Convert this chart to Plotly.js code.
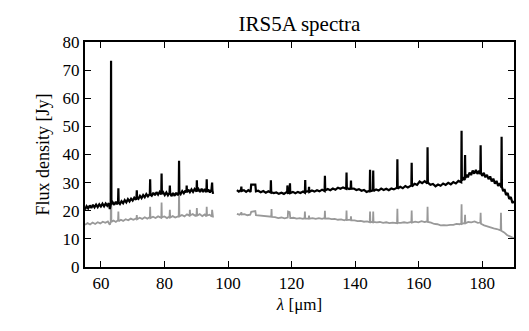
<!DOCTYPE html>
<html>
<head>
<meta charset="utf-8">
<script src="https://cdn.plot.ly/plotly-3.0.1.min.js"></script>
<style>
  body { margin: 0; background: #fff; }
  #plot text { font-family: 'Liberation Serif', serif !important; }
</style>
</head>
<body>
<div id="plot"></div>
<script>
// wavelength (um) and flux (Jy); null marks the detector gap
var blackX = [55.0, 55.5, 56.0, 56.5, 57.0, 57.5, 58.0, 58.5, 59.0, 59.5, 60.0, 60.5, 61.0, 61.5,
  62.0, 62.5, 62.8, 63.1, 63.2, 63.3, 63.7, 64.2, 64.7, 65.1, 65.4, 65.5, 65.6, 66.0, 66.5, 67.0,
  67.5, 68.0, 68.5, 69.0, 69.5, 70.0, 70.5, 71.0, 71.2, 71.3, 71.4, 71.8, 72.3, 72.8, 73.3, 73.8,
  74.3, 74.8, 75.4, 75.5, 75.6, 76.0, 76.5, 77.0, 77.5, 78.0, 78.5, 79.0, 79.1, 79.2, 79.6, 80.1,
  80.6, 81.1, 81.6, 81.7, 81.8, 82.2, 82.7, 83.2, 83.7, 84.2, 84.5, 84.6, 84.7, 85.1, 85.6, 86.1,
  86.6, 86.9, 87.0, 87.1, 87.5, 88.0, 88.5, 89.0, 89.5, 90.1, 90.2, 90.3, 90.7, 91.2, 91.7, 92.2,
  92.7, 93.2, 93.3, 93.4, 93.8, 94.3, 94.8, 95.0, 95.1, 95.3,
  99.0,
  102.8, 103.4, 104.1, 104.2, 104.3, 105.0, 105.7, 106.4, 107.1, 107.3, 108.6, 108.8, 109.5, 110.3,
  111.1, 111.9, 112.7, 113.4, 113.5, 113.6, 114.4, 115.2, 116.0, 116.8, 117.6, 118.4, 118.6, 118.7,
  118.9, 119.4, 119.5, 119.6, 120.4, 121.2, 122.0, 122.8, 123.6, 124.2, 124.3, 124.4, 125.4, 125.5,
  125.6, 126.4, 127.2, 128.0, 128.8, 129.6, 130.4, 130.5, 130.6, 131.4, 132.2, 133.0, 133.8, 134.6,
  135.4, 136.2, 137.2, 137.3, 137.4, 138.1, 138.6, 138.7, 138.8, 139.6, 140.4, 141.2, 142.0, 142.8,
  143.6, 144.6, 144.7, 144.8, 145.6, 145.7, 145.8, 146.6, 147.4, 148.2, 149.0, 149.8, 150.6, 151.4,
  152.2, 153.2, 153.3, 153.4, 154.2, 155.0, 155.8, 156.6, 157.7, 157.8, 157.9, 158.7, 159.5, 160.3,
  161.1, 161.9, 162.7, 162.8, 162.9, 163.7, 164.5, 165.3, 166.1, 166.9, 167.7, 168.5, 169.3, 170.1,
  170.9, 171.7, 172.5, 173.4, 173.5, 173.6, 174.1, 174.5, 174.6, 174.7, 175.1, 175.5, 176.0, 176.5,
  177.0, 177.5, 178.0, 178.5, 179.0, 179.4, 179.5, 179.6, 180.0, 180.5, 181.0, 181.5, 182.0, 182.5,
  183.0, 183.5, 184.0, 184.5, 185.0, 185.5, 186.0, 186.1, 186.2, 186.6, 187.0, 187.5, 188.0, 188.5,
  189.0, 189.5, 190.0];
var blackY = [20.4, 21.6, 20.8, 21.9, 21.0, 22.1, 21.2, 22.2, 21.3, 22.3, 21.5, 22.5, 21.6, 22.6,
  21.8, 22.7, 20.6, 22.2, 73.3, 22.4, 23.0, 22.1, 23.2, 22.3, 23.2, 28.0, 23.0, 22.4, 23.4, 22.7,
  23.8, 23.0, 24.1, 23.3, 24.3, 23.6, 24.6, 23.9, 24.8, 27.3, 24.5, 24.2, 25.3, 24.5, 25.6, 24.8,
  25.9, 25.1, 26.0, 31.2, 25.7, 25.3, 26.4, 25.5, 26.6, 25.7, 26.7, 25.8, 33.2, 26.0, 26.6, 25.6,
  26.5, 25.5, 26.4, 29.0, 26.2, 25.2, 26.3, 25.3, 26.4, 25.5, 26.5, 37.8, 26.5, 25.9, 27.0, 26.2,
  27.2, 26.5, 29.0, 26.6, 27.5, 26.6, 27.6, 26.7, 27.7, 26.8, 30.8, 27.0, 27.7, 26.7, 27.8, 26.7,
  27.7, 26.6, 31.2, 26.8, 27.6, 26.5, 27.5, 30.0, 27.2, 26.0,
  null,
  27.3, 26.8, 27.4, 28.6, 27.0, 27.3, 26.7, 27.3, 26.7, 29.3, 29.3, 26.9, 27.1, 26.6,
  27.0, 26.4, 26.9, 26.5, 30.8, 26.6, 26.3, 26.5, 26.0, 26.4, 26.0, 26.6, 26.3, 29.0,
  26.3, 26.4, 29.8, 26.3, 26.7, 26.2, 26.7, 26.3, 26.8, 26.4, 30.9, 26.7, 27.0, 28.5,
  26.7, 27.2, 26.8, 27.3, 26.9, 27.5, 27.0, 32.4, 27.2, 27.7, 27.3, 27.9, 27.5, 28.2,
  27.8, 28.3, 27.8, 33.6, 28.1, 27.7, 28.0, 30.7, 27.8, 27.9, 27.4, 27.7, 27.1, 27.4,
  26.7, 27.1, 34.6, 26.9, 27.2, 34.3, 27.0, 27.6, 27.2, 27.9, 27.4, 27.8, 27.3, 27.9,
  27.6, 28.2, 38.3, 27.9, 28.5, 28.0, 28.8, 28.3, 29.0, 37.1, 28.6, 29.6, 29.2, 30.4,
  29.8, 30.5, 29.7, 42.6, 30.0, 29.2, 29.5, 28.7, 29.3, 28.9, 29.7, 29.2, 29.9, 29.4,
  30.2, 29.7, 30.6, 30.1, 48.4, 30.8, 31.5, 30.9, 39.8, 31.6, 32.8, 31.9, 33.6, 32.7,
  34.3, 33.2, 34.5, 33.1, 34.2, 33.0, 43.3, 33.4, 32.4, 33.5, 31.9, 32.8, 31.2, 32.2,
  30.4, 31.4, 29.6, 30.6, 28.8, 29.8, 28.3, 46.3, 28.5, 27.0, 27.7, 25.6, 26.3, 24.2,
  24.9, 22.8, 23.4];

var grayX = [55.0, 55.8, 56.6, 57.4, 58.2, 59.0, 59.8, 60.6, 61.4, 62.2, 62.8, 63.1, 63.2, 63.3,
  64.0, 64.7, 65.4, 65.5, 65.6, 66.3, 67.0, 67.8, 68.6, 69.4, 70.2, 71.2, 71.3, 71.4, 72.2, 73.0,
  73.8, 74.6, 75.4, 75.5, 75.6, 76.4, 77.2, 78.0, 79.0, 79.1, 79.2, 80.0, 80.8, 81.6, 81.7, 81.8,
  82.6, 83.4, 84.5, 84.6, 84.7, 85.5, 86.3, 87.1, 87.9, 88.0, 88.1, 88.9, 89.7, 90.1, 90.2, 90.3,
  91.1, 91.9, 92.7, 93.2, 93.3, 93.4, 94.2, 94.9, 95.0, 95.1, 95.3,
  99.0,
  102.8, 103.6, 104.1, 104.2, 104.3, 105.2, 106.1, 107.0, 107.3, 108.6, 108.8, 109.8, 110.8, 111.8,
  112.8, 113.6, 113.7, 113.8, 114.8, 115.8, 116.8, 117.8, 118.8, 118.9, 119.4, 119.6, 120.6, 121.6,
  122.6, 123.6, 124.1, 124.2, 124.3, 125.4, 125.5, 125.6, 126.6, 127.6, 128.6, 129.6, 130.4, 130.5,
  130.6, 131.6, 132.6, 133.6, 134.6, 135.6, 136.6, 137.2, 137.3, 137.4, 138.6, 138.7, 138.8, 139.8,
  140.8, 141.8, 142.8, 143.8, 144.6, 144.7, 144.8, 145.6, 145.7, 145.8, 146.8, 147.8, 148.8, 149.8,
  150.8, 151.8, 153.2, 153.3, 153.4, 154.4, 155.4, 156.4, 157.7, 157.8, 157.9, 158.9, 159.9, 160.9,
  161.9, 162.7, 162.8, 162.9, 163.9, 164.9, 165.9, 166.9, 167.9, 168.9, 169.9, 170.9, 171.9, 172.9,
  173.4, 173.5, 173.6, 174.5, 174.6, 174.7, 175.6, 176.6, 177.6, 178.6, 179.4, 179.5, 179.6, 180.6,
  181.6, 182.6, 183.6, 184.6, 185.8, 185.9, 186.0, 186.9, 187.8, 188.7, 189.5, 190.0];
var grayY = [15.0, 15.6, 15.1, 15.8, 15.3, 15.9, 15.5, 16.1, 15.7, 16.2, 15.0, 16.0, 51.0, 16.1,
  16.5, 16.0, 16.6, 19.7, 16.3, 16.8, 16.4, 17.0, 16.6, 17.2, 16.8, 17.3, 18.5, 17.0, 17.5, 17.1,
  17.7, 17.2, 17.8, 21.4, 17.4, 17.9, 17.4, 18.0, 17.5, 22.9, 17.7, 18.0, 17.4, 18.0, 20.3, 17.6,
  18.1, 17.6, 18.1, 28.0, 18.0, 18.5, 18.0, 18.7, 18.2, 20.3, 18.4, 18.8, 18.2, 18.7, 21.0, 18.3,
  18.8, 18.1, 18.7, 18.0, 21.4, 18.3, 18.6, 17.9, 20.3, 18.3, 17.6,
  null,
  18.9, 18.6, 19.0, 19.5, 18.7, 18.8, 18.4, 18.6, 19.6, 19.9, 18.4, 18.3, 18.0, 18.1,
  17.8, 17.9, 20.6, 17.8, 17.7, 17.4, 17.6, 17.3, 17.6, 19.7, 19.5, 17.4, 17.5, 17.2,
  17.4, 17.1, 17.4, 19.7, 17.2, 17.3, 18.3, 17.2, 17.4, 17.1, 17.4, 17.1, 17.4, 20.0,
  17.2, 17.3, 17.0, 17.1, 16.8, 16.9, 16.6, 16.9, 20.1, 16.7, 16.8, 18.0, 16.6, 16.6,
  16.3, 16.4, 16.1, 16.2, 15.9, 19.7, 16.1, 15.9, 19.7, 16.0, 15.9, 16.0, 15.7, 15.9,
  15.6, 15.8, 15.6, 20.7, 15.8, 15.7, 15.9, 15.7, 16.0, 20.1, 15.8, 16.1, 15.9, 16.3,
  16.0, 16.2, 21.4, 16.0, 15.8, 15.3, 15.2, 14.8, 14.9, 14.8, 15.0, 15.0, 15.3, 15.2,
  15.5, 22.3, 15.3, 15.7, 18.6, 15.5, 16.0, 15.9, 16.2, 15.7, 15.8, 19.3, 15.4, 14.8,
  14.4, 14.2, 13.7, 13.5, 13.0, 19.3, 12.9, 12.3, 11.4, 10.9, 10.4, 10.2];

var xTicks = [60, 80, 100, 120, 140, 160, 180];
var yTicks = [0, 10, 20, 30, 40, 50, 60, 70, 80];

var data = [
  {
    x: grayX, y: grayY,
    mode: 'lines', type: 'scatter',
    line: {color: '#999999', width: 1.8},
    connectgaps: false
  },
  {
    x: blackX, y: blackY,
    mode: 'lines', type: 'scatter',
    line: {color: '#000000', width: 2.2},
    connectgaps: false
  }
];

var layout = {
  width: 529,
  height: 331,
  showlegend: false,
  hovermode: false,
  paper_bgcolor: '#fff',
  plot_bgcolor: '#fff',
  margin: {l: 85, r: 15, t: 42, b: 64},
  font: {family: 'Liberation Serif', color: '#000'},
  title: {text: 'IRS5A spectra', font: {family: 'Liberation Serif', size: 21},
    x: 0.566, xanchor: 'center', y: 0.93, yanchor: 'middle'},
  xaxis: {
    range: [55, 190], tickvals: xTicks,
    showline: true, linecolor: '#000', linewidth: 2, mirror: 'ticks',
    ticks: 'inside', ticklen: 6, tickwidth: 1, tickcolor: '#000',
    showgrid: false, zeroline: false,
    tickfont: {family: 'Liberation Serif', size: 17},
    title: {text: '<i>λ</i> [μm]', font: {family: 'Liberation Serif', size: 17}, standoff: 6}
  },
  yaxis: {
    range: [0, 80], tickvals: yTicks,
    showline: true, linecolor: '#000', linewidth: 2, mirror: 'ticks',
    ticks: 'inside', ticklen: 6, tickwidth: 1, tickcolor: '#000',
    showgrid: false, zeroline: false,
    tickfont: {family: 'Liberation Serif', size: 17},
    title: {text: 'Flux density [Jy]', font: {family: 'Liberation Serif', size: 18}, standoff: 8}
  }
};

Plotly.newPlot('plot', data, layout, {displayModeBar: false});
</script>
</body>
</html>
